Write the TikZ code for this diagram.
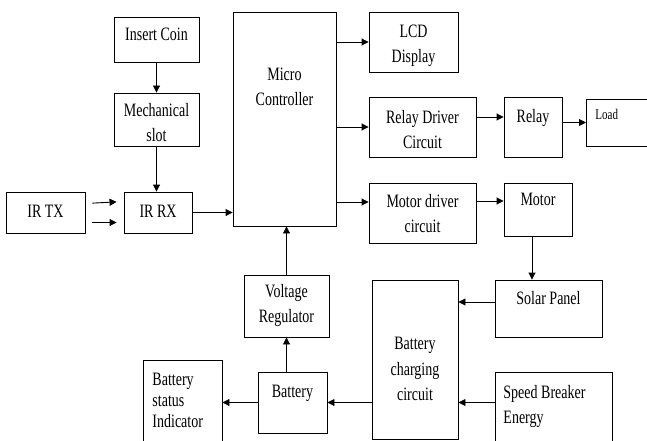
\documentclass[tikz,border=0pt]{standalone}
\usepackage{fontspec}
\usepackage{graphicx}
\setmainfont{Liberation Serif}
\usetikzlibrary{arrows.meta,positioning,calc}
% taller text, as in the drawing
\newcommand{\tall}[2][c]{\scalebox{1}[1.35]{\begin{tabular}{@{}#1@{}}#2\end{tabular}}}
\tikzset{
  every picture/.style={color=black, line width=0.9pt},
  box/.style={draw=black, fill=white, inner sep=2pt, align=center,
    font=\rmfamily\fontsize{14}{18}\selectfont},
  txt/.style={inner sep=0pt, align=center, font=\rmfamily\fontsize{14}{18}\selectfont},
  flow/.style={-{Triangle[length=7pt,width=7pt]}, line width=0.9pt},
}

\begin{document}
\begin{tikzpicture}[x=1pt, y=-1pt]
  \clip (0,0) rectangle (647,441);
  \fill[white] (0,0) rectangle (647,441);
  % input side
  \node[box, minimum width=85, minimum height=45] (coin) at (156.5,39.5) {};
  \node[txt] (coin-t) at (156.5,36) {\tall{Insert Coin}};
  \node[box, minimum width=85, minimum height=53] (slot) at (156.5,119.5) {};
  \node[txt] (slot-t) at (156.5,124) {\tall{Mechanical\\ slot}};
  \node[box, minimum width=79, minimum height=41] (irtx) at (45.5,212.5) {};
  \node[txt] (irtx-t) at (45.5,212.5) {\tall{IR TX}};
  \node[box, minimum width=68, minimum height=41] (irrx) at (158,212.5) {};
  \node[txt] (irrx-t) at (158,212.5) {\tall{IR RX}};
  % controller
  \node[box, minimum width=103, minimum height=214] (mc) at (284.5,119) {};
  \node[txt] (mc-t) at (284.5,88) {\tall{Micro\\ Controller}};
  % outputs
  \node[box, minimum width=89, minimum height=60] (lcd) at (413.5,42) {};
  \node[txt] (lcd-t) at (413.5,45) {\tall{LCD\\ Display}};
  \node[box, minimum width=107, minimum height=60] (rdc) at (422.5,127) {};
  \node[txt] (rdc-t) at (422.5,131) {\tall{Relay Driver\\ Circuit}};
  \node[box, minimum width=58, minimum height=60] (relay) at (533,127) {};
  \node[txt] (relay-t) at (533,118) {\tall{Relay}};
  \node[box, minimum width=100, minimum height=47, anchor=west] (load) at (586,122.5) {};
  \node[txt, font=\rmfamily\fontsize{11}{13}\selectfont, anchor=west] (load-t) at (595,116) {\tall{Load}};
  \node[box, minimum width=107, minimum height=60] (mdc) at (422.5,213) {};
  \node[txt] (mdc-t) at (422.5,215) {\tall{Motor driver\\ circuit}};
  \node[box, minimum width=68, minimum height=53] (motor) at (538,209.5) {};
  \node[txt] (motor-t) at (538,201) {\tall{Motor}};
  % power side
  \node[box, minimum width=107, minimum height=57] (solar) at (548.5,308.5) {};
  \node[txt] (solar-t) at (548.5,300) {\tall{Solar Panel}};
  \node[box, minimum width=86, minimum height=159] (bcc) at (415,359.5) {};
  \node[txt, font=\rmfamily\fontsize{14}{19}\selectfont] (bcc-t) at (415,370) {\tall{Battery\\ charging\\ circuit}};
  \node[box, minimum width=117, minimum height=100] (sbe) at (553.5,422) {};
  \node[txt, anchor=west] (sbe-t) at (503,406) {\tall[l]{Speed Breaker\\ Energy}};
  \node[box, minimum width=85, minimum height=62] (vr) at (286.5,306) {};
  \node[txt] (vr-t) at (286.5,305) {\tall{Voltage\\ Regulator}};
  \node[box, minimum width=69, minimum height=61] (bat) at (292.5,402.5) {};
  \node[txt] (bat-t) at (292.5,393) {\tall{Battery}};
  \node[box, minimum width=79, minimum height=110] (bsi) at (182.5,415) {};
  \node[txt, anchor=west, font=\rmfamily\fontsize{14}{15.5}\selectfont] (bsi-t) at (152,402) {\tall[l]{Battery\\ status\\ Indicator}};

  \draw[flow] (coin) -- (slot);
  \draw[flow] (slot.south) -- (slot.south |- irrx.north);
  \draw[flow, shorten <=7pt, shorten >=7pt] ([yshift=9pt]irtx.east) -- ([yshift=11pt]irrx.west);
  \draw[flow, shorten <=7pt, shorten >=7pt] ([yshift=-10pt]irtx.east) -- ([yshift=-10pt]irrx.west);
  \draw[flow] (irrx) -- (irrx -| mc.west);
  \draw[flow] (mc.east |- lcd) -- (lcd);
  \draw[flow] (mc.east |- rdc) -- (rdc);
  \draw[flow] ([yshift=10pt]rdc.east) -- ([yshift=10pt]rdc.east -| relay.west);
  \draw[flow] (relay.east |- load) -- (load);
  \draw[flow] ([yshift=11pt]mc.east |- mdc) -- ([yshift=11pt]mdc.west);
  \draw[flow] ([yshift=12pt]mdc.east) -- ([yshift=12pt]mdc.east -| motor.west);
  \draw[flow] ([xshift=-6pt]motor.south) -- ([xshift=-6pt]motor.south |- solar.north);
  \draw[flow] ([yshift=6.5pt]solar.west) -- ([yshift=6.5pt]solar.west -| bcc.east);
  \draw[flow] (sbe.west |- bat) -- (bcc.east |- bat);
  \draw[flow] (bcc.west |- bat) -- (bat);
  \draw[flow] (bat) -- (bat -| bsi.east);
  \draw[flow] (vr |- bat.north) -- (vr.south);
  \draw[flow] (vr) -- (vr |- mc.south);
\end{tikzpicture}
\end{document}
